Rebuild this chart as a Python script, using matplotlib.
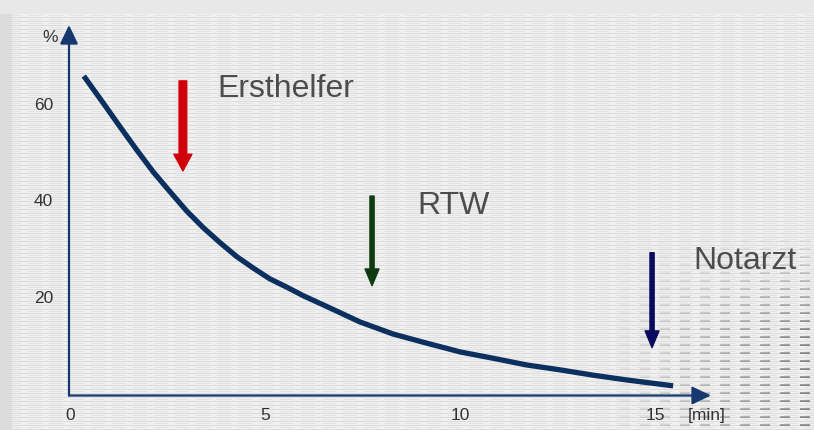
import matplotlib.pyplot as plt
import numpy as np

# curve values
t_min = [0.38, 0.88, 1.31, 1.74, 2.16, 2.59, 3.02, 3.44, 3.87, 4.30, 4.73, 5.15,
         5.58, 6.01, 6.50, 7.46, 8.31, 9.18, 10.03, 10.87, 11.74, 12.59, 13.44,
         14.31, 15.49]
survival = [66.0, 60.4, 55.5, 50.7, 46.2, 42.1, 38.1, 34.7, 31.6, 28.7, 26.3, 24.1,
            22.4, 20.6, 18.8, 15.2, 12.7, 10.8, 9.0, 7.7, 6.3, 5.3, 4.2,
            3.2, 2.0]

x_ticks = [0, 5, 10, 15]
y_ticks = [20, 40, 60]

# arrows: label, x position, y start, y end, text x, text y
helpers = ["Ersthelfer", "RTW", "Notarzt"]
arrow_x = [2.92, 7.77, 14.95]
arrow_top = [65.0, 41.2, 29.5]
arrow_bottom = [46.4, 22.7, 9.9]
label_x = [3.8, 8.92, 16.0]
label_y = [63.4, 39.2, 27.8]
arrow_colors = ["#d0000a", "#0d3a10", "#0a0a60"]

W, H = 814, 430
fig = plt.figure(figsize=(W / 100, H / 100), dpi=100)

# background texture (deterministic stripes)
bg = np.full((H, W), 0.94)
rows = np.arange(H)[:, None]
cols = np.arange(W)[None, :]
bg = np.where(rows % 4 == 1, 0.86, bg)
bg = np.where((rows % 4 == 3) & ((cols // 7) % 3 != 0), 0.89, bg)
# darker dashes toward the lower right
dark = np.clip((cols - 600) / 214.0, 0, 1) * np.clip((rows - 230) / 100.0, 0, 1)
bg = np.where((rows % 8 < 2) & ((cols // 10) % 2 == 0), bg - 0.35 * dark, bg)
bg[:, :12] = 0.86
bg[:14, :] = 0.91
bgax = fig.add_axes([0, 0, 1, 1])
bgax.imshow(bg, cmap="gray", vmin=0, vmax=1, aspect="auto", interpolation="nearest")
bgax.axis("off")

ax = fig.add_axes([0, 0, 1, 1])
ax.patch.set_alpha(0)
ax.set_xlim(-69 / 39.0, (W - 69) / 39.0)
ax.set_ylim(-(H - 395.5) / 4.84, 395.5 / 4.84)
ax.axis("off")

axis_col = "#16386e"
# axes with arrow heads
head = "-|>,head_length=1.15,head_width=0.55"
ax.annotate("", xy=(0, (395.5 - 25) / 4.84), xytext=(0, 0),
            arrowprops=dict(arrowstyle=head, color=axis_col, lw=1.6, shrinkA=0, shrinkB=0))
ax.annotate("", xy=((711 - 69) / 39.0, 0), xytext=(0, 0),
            arrowprops=dict(arrowstyle=head, color=axis_col, lw=1.6, shrinkA=0, shrinkB=0))

ax.plot(t_min, survival, color="#0b2f5e", lw=3.8, solid_capstyle="butt",
        solid_joinstyle="round")

font = ["Liberation Sans", "DejaVu Sans"]
for v in x_ticks:
    ax.text(v + 0.03, -4.2, str(v), ha="center", va="center", fontsize=12.5,
            color="#333333", family=font)
ax.text(16.36, -4.2, "[min]", ha="center", va="center", fontsize=12.5,
        color="#333333", family=font)
for v in y_ticks:
    ax.text(-0.41, v, str(v), ha="right", va="center", fontsize=12.5,
            color="#333333", family=font)
ax.text(-0.28, 73.9, "%", ha="right", va="center", fontsize=12.5,
        color="#333333", family=font)

widths = [5.5, 3.0, 3.0]
heads = [13, 10, 10]
for name, x, y0, y1, tx, ty, c, w, hw in zip(helpers, arrow_x, arrow_top, arrow_bottom,
                                              label_x, label_y, arrow_colors, widths, heads):
    ax.annotate("", xy=(x, y1), xytext=(x, y0),
                arrowprops=dict(width=w, headwidth=hw, headlength=12, color=c,
                                shrink=0))
    ax.text(tx, ty, name, ha="left", va="center", fontsize=23,
            color="#4d4d4d", family=font)

fig.savefig("out.png", dpi=100)
